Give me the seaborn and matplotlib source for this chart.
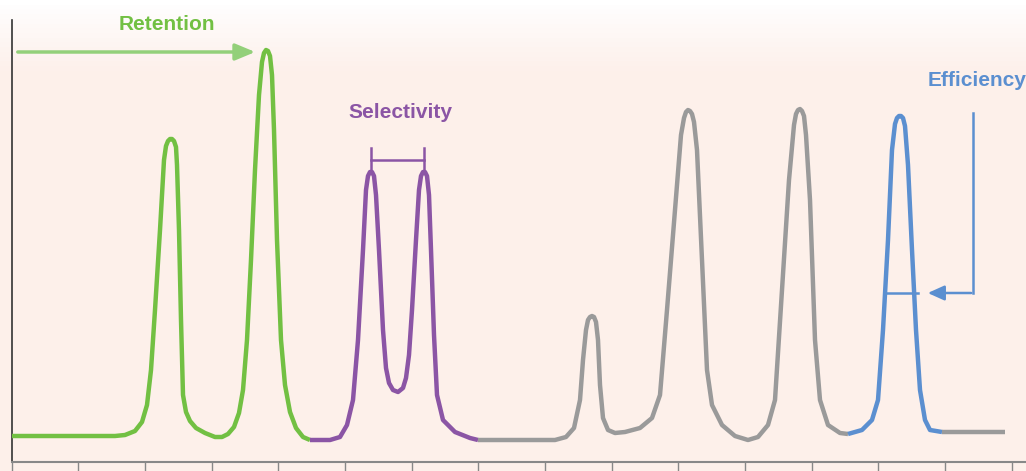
import numpy as np
import pandas as pd
import matplotlib
matplotlib.use("Agg")
import matplotlib.pyplot as plt
import seaborn as sns

# Trace points (pixel x, pixel y from top)
green_x = [12,115,125,135,142,147,151,155,160,164,166,168,170,172,174,176,177,179,181,183,186,190,196,205,215,222,228,234,239,243,247,251,255,259,262,264,266,268,270,272,274,277,281,285,290,296,303,310]
green_y = [436,436,435,431,422,405,370,310,230,160,146,141,139,139,141,147,165,230,320,395,412,421,428,433,437,437,434,427,413,390,340,260,170,95,62,53,50,51,56,75,130,240,340,385,412,428,437,440]
purple_x = [310,330,340,347,353,358,363,366,368,370,372,374,376,379,383,386,389,393,398,403,406,409,412,416,419,421,423,425,427,429,431,434,437,443,455,470,478]
purple_y = [440,440,437,425,400,340,250,190,176,172,172,176,195,250,330,368,383,390,392,388,378,355,310,240,190,176,172,172,176,195,250,335,395,420,432,438,440]
grey_x = [478,555,566,574,580,583,586,588,590,592,594,596,598,600,603,608,615,625,640,652,660,667,675,681,684,686,688,690,692,694,697,702,707,712,722,735,748,758,768,775,782,789,794,796,798,800,802,804,806,810,815,820,828,840,848]
grey_y = [440,440,437,428,400,360,330,320,317,316,317,322,340,385,418,430,433,432,428,418,395,310,210,135,118,112,110,111,114,122,150,260,370,405,425,436,440,437,425,400,290,180,125,114,110,109,111,116,135,200,340,400,425,433,434]
blue_x = [848,862,872,878,883,888,892,895,897,899,901,903,905,908,912,916,920,925,930,942]
blue_y = [434,430,420,400,330,240,150,124,118,116,116,118,126,165,250,330,390,420,430,432]
tail_x = [942,1005]
tail_y = [432,432]
ticks_x = [12,78,145,212,278,345,412,478,545,612,678,745,812,878,945,1012]

GREEN, PURPLE, GREY, BLUE = "#72c043", "#8b55a5", "#9a9a9a", "#5b8fd0"
plt.rcParams['font.family'] = ['Liberation Sans', 'DejaVu Sans']

fig = plt.figure(figsize=(10.26, 4.71), dpi=100)
ax = fig.add_axes([0, 0, 1, 1])
ax.set_xlim(0, 1026)
ax.set_ylim(471, 0)

# background gradient: white at top -> pale pink
grad = np.clip(np.linspace(0, 1, 100) / 0.15, 0, 1)[:, None]
c0 = np.array([1, 1, 1]); c1 = np.array([253, 240, 234]) / 255
img = np.repeat(c0 + (c1 - c0) * grad[..., None], 2, axis=1)
ax.imshow(img, extent=(0, 1026, 471, 0), aspect="auto", zorder=0)

# axes
ax.plot([12, 12], [20, 462], color="#333333", lw=1.2, zorder=1)
ax.plot([12, 1026], [462, 462], color="#888888", lw=1.5, zorder=1)
for t in ticks_x:
    ax.plot([t, t], [462, 471], color="#888888", lw=1, zorder=1)

for xs, ys, c in [(green_x, green_y, GREEN), (purple_x, purple_y, PURPLE),
                  (grey_x, grey_y, GREY), (blue_x, blue_y, BLUE), (tail_x, tail_y, GREY)]:
    df = pd.DataFrame({"x": xs, "y": ys})
    sns.lineplot(data=df, x="x", y="y", sort=False, color=c, lw=3.2, ax=ax,
                 solid_joinstyle="round", solid_capstyle="butt", zorder=3)
ax.set_xlim(0, 1026)
ax.set_ylim(471, 0)
ax.axis("off")

# Retention
ax.annotate("", xy=(258, 52), xytext=(15, 52),
            arrowprops=dict(arrowstyle="-|>,head_length=1.2,head_width=0.5", color="#93d07a", lw=2.5))
ax.text(167, 25, "Retention", color=GREEN, fontsize=15, fontweight="bold", ha="center", va="center")

# Selectivity
ax.text(400, 113, "Selectivity", color=PURPLE, fontsize=15, fontweight="bold", ha="center", va="center")
ax.plot([371, 424], [160, 160], color=PURPLE, lw=1.8)
ax.plot([371, 371], [148, 170], color=PURPLE, lw=1.8)
ax.plot([424, 424], [148, 170], color=PURPLE, lw=1.8)

# Efficiency
ax.text(977, 80, "Efficiency", color=BLUE, fontsize=15, fontweight="bold", ha="center", va="center")
ax.plot([973, 973], [113, 293], color=BLUE, lw=1.8)
ax.annotate("", xy=(925, 293), xytext=(974, 293),
            arrowprops=dict(arrowstyle="-|>,head_length=1.0,head_width=0.45", color=BLUE, lw=1.8))
ax.plot([886, 918], [293, 293], color=BLUE, lw=1.8)

fig.savefig("out.png", dpi=100)
